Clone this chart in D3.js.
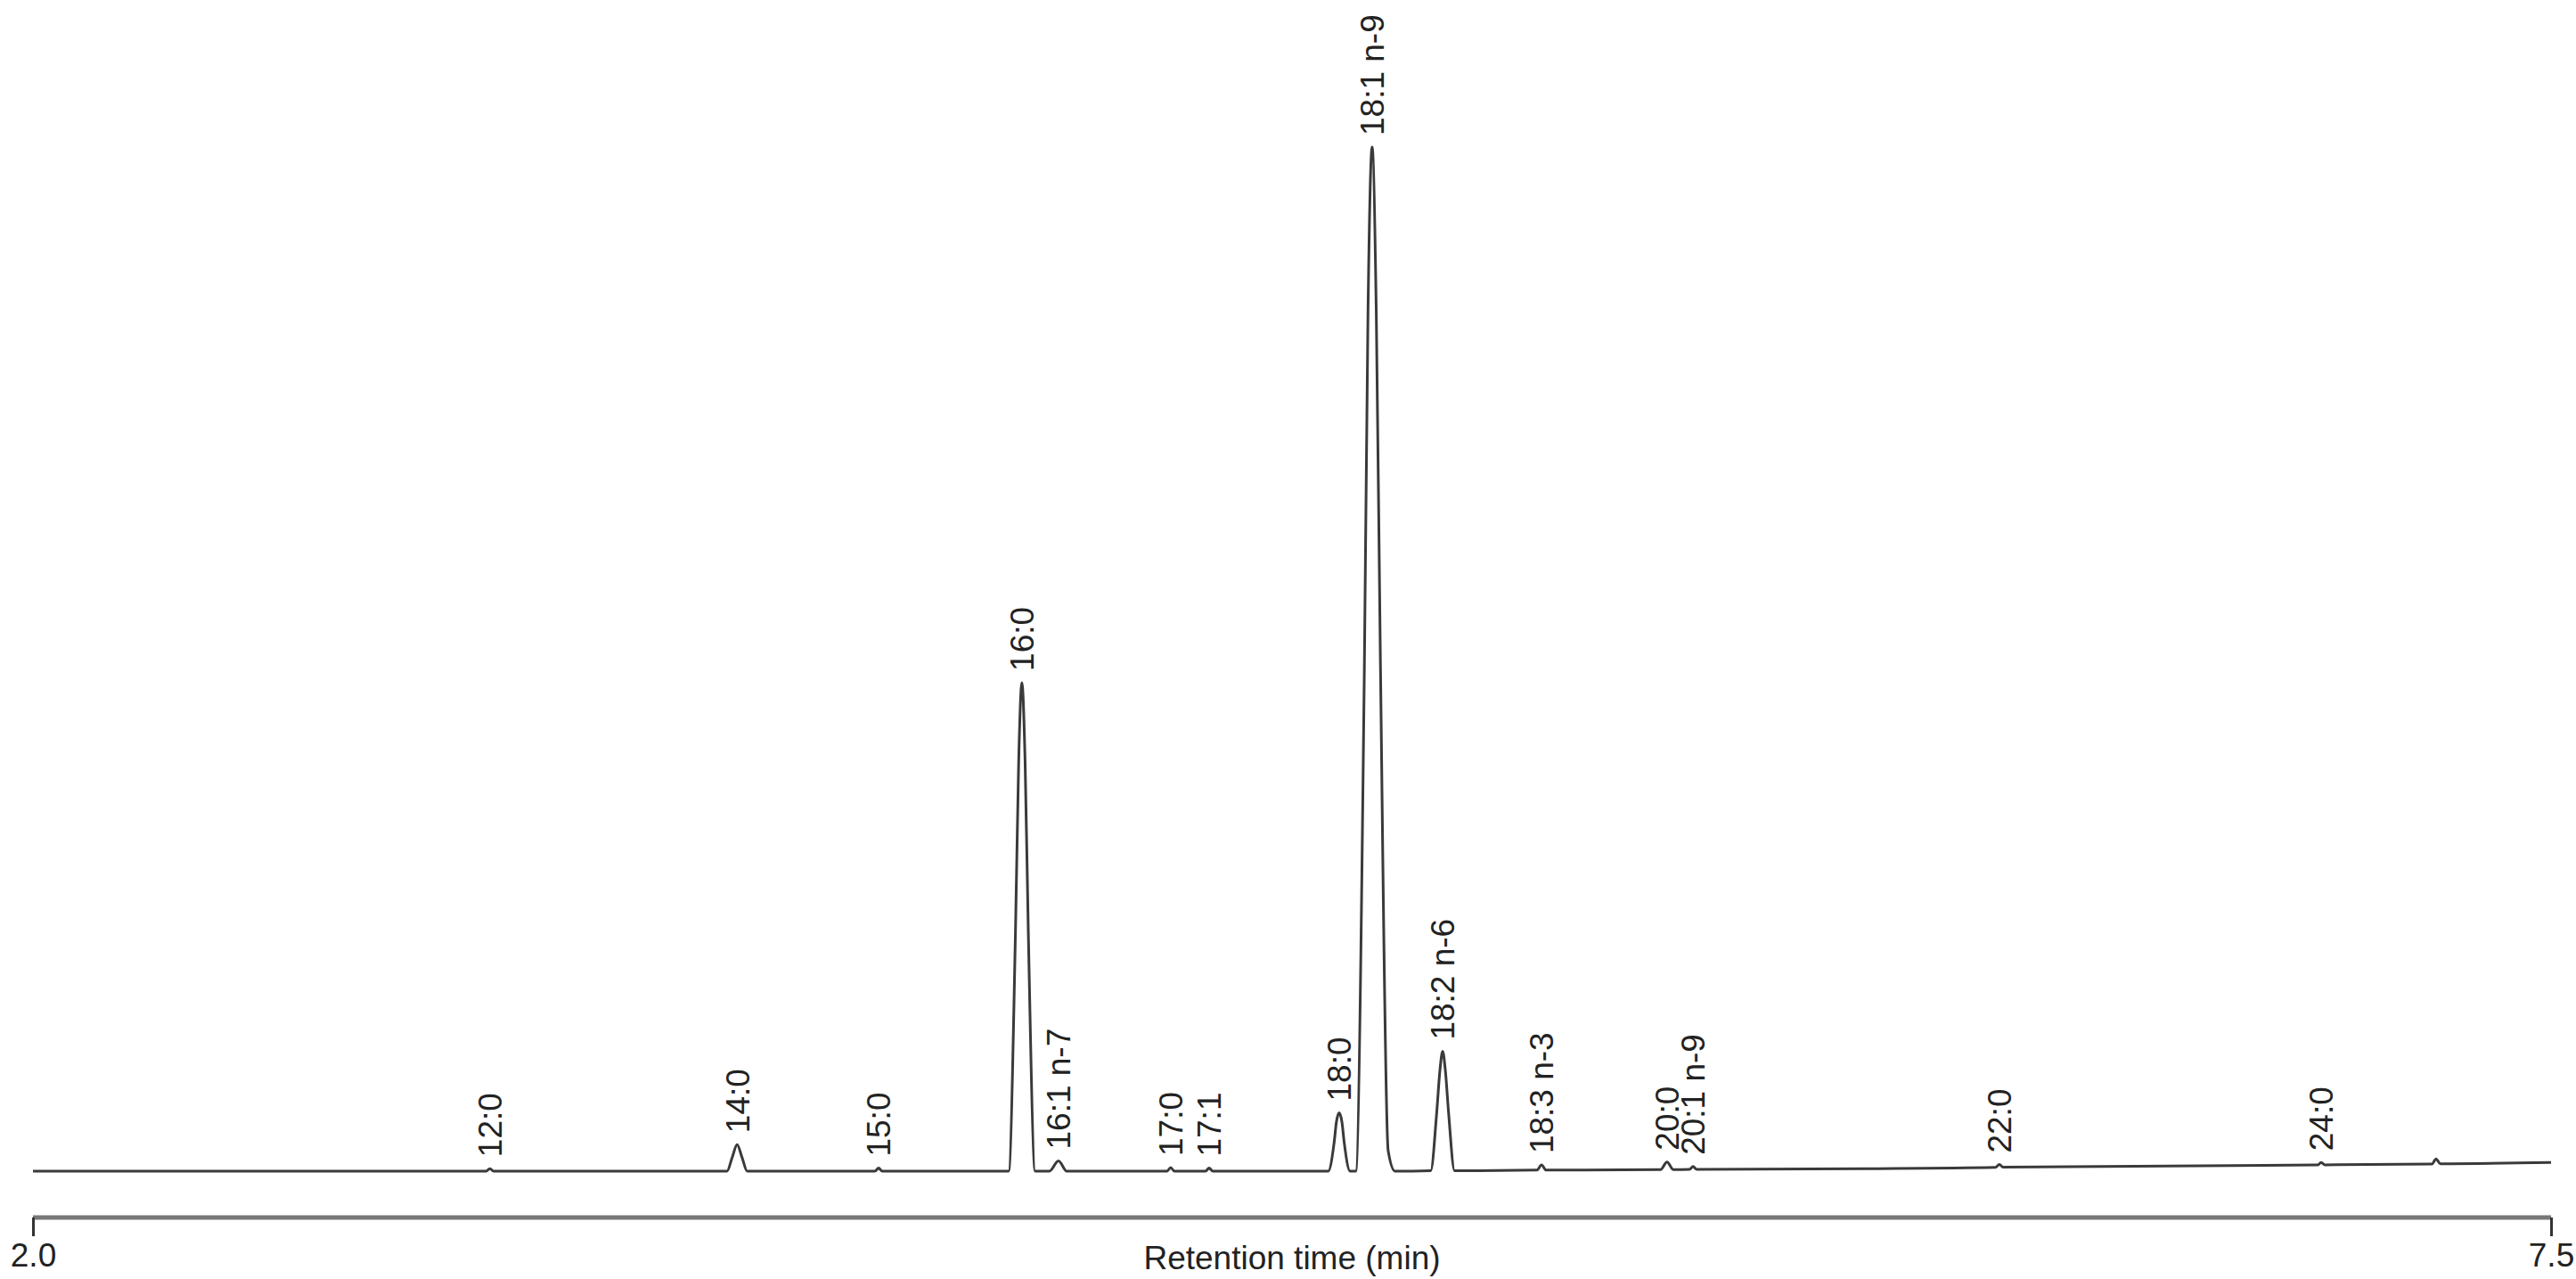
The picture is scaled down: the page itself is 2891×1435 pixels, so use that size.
<!DOCTYPE html>
<html>
<head>
<meta charset="utf-8">
<script src="https://cdn.jsdelivr.net/npm/d3@7"></script>
<style>
  html, body { margin: 0; padding: 0; background: #fff; }
  svg { display: block; }
  text { font-family: "Liberation Sans", Arial, sans-serif; fill: #222; }
</style>
</head>
<body>
<svg id="chart" width="2891" height="1435"></svg>
<script>
// ---- Data ----
// Trace: retention time (min) and relative signal (18:1 n-9 apex = 100)
const traceTimes = [
  2.000, 2.990, 2.998, 3.006,
  3.516, 3.527, 3.538, 3.549, 3.560,
  3.839, 3.847, 3.855,
  4.131, 4.146, 4.153, 4.160, 4.167, 4.174, 4.189,
  4.220, 4.240, 4.258,
  4.477, 4.485, 4.493,
  4.561, 4.569, 4.577,
  4.829, 4.842, 4.847, 4.853, 4.859, 4.864, 4.877,
  4.889, 4.908, 4.916, 4.925, 4.934, 4.943, 4.960, 4.975,
  5.053, 5.066, 5.073, 5.079, 5.085, 5.092, 5.105,
  5.285, 5.295, 5.305,
  5.555, 5.569, 5.583,
  5.618, 5.626, 5.634,
  6.000,
  6.287, 6.295, 6.303,
  6.990, 6.998, 7.006,
  7.240, 7.249, 7.258,
  7.500
];
const traceSignals = [
  0, 0, 0.25, 0,
  0, 1.3, 2.6, 1.3, 0,
  0, 0.3, 0,
  0, 23.4, 40, 47.7, 40, 23.4, 0,
  0, 1.0, 0,
  0, 0.35, 0,
  0, 0.3, 0,
  0, 2.8, 4.8, 5.7, 4.8, 2.8, 0,
  0, 49, 84, 100, 84, 50, 2, 0,
  0.05, 5.7, 9.8, 11.7, 9.8, 5.7, 0.05,
  0.1, 0.6, 0.1,
  0.15, 0.9, 0.15,
  0.17, 0.45, 0.17,
  0.25,
  0.38, 0.65, 0.4,
  0.6, 0.85, 0.62,
  0.7, 1.2, 0.72,
  0.85
];

// Peak annotations
const peakLabels  = ["12:0", "14:0", "15:0", "16:0", "16:1 n-7", "17:0", "17:1", "18:0", "18:1 n-9", "18:2 n-6", "18:3 n-3", "20:0", "20:1 n-9", "22:0", "24:0"];
const peakTimes   = [2.998, 3.538, 3.847, 4.160, 4.240, 4.485, 4.569, 4.853, 4.925, 5.079, 5.295, 5.569, 5.626, 6.295, 6.998];
const peakApex    = [0.25, 2.6, 0.3, 47.7, 1.0, 0.35, 0.3, 5.7, 100, 11.7, 0.6, 0.9, 0.45, 0.65, 0.85];

// Axis
const axisDomain = [2.0, 7.5];
const tickValues = [2.0, 7.5];
const axisTitle = "Retention time (min)";

// ---- Drawing ----
const svg = d3.select("#chart");
svg.append("rect").attr("width", 2891).attr("height", 1435).attr("fill", "#fff");

const x = d3.scaleLinear().domain(axisDomain).range([37, 2863]);
const y = d3.scaleLinear().domain([0, 100]).range([1314, 165]);

const points = traceTimes.map((t, i) => [t, traceSignals[i]]);
const line = d3.line()
  .x(d => x(d[0]))
  .y(d => y(d[1]))
  .curve(d3.curveMonotoneX);

svg.append("path")
  .datum(points)
  .attr("d", line)
  .attr("fill", "none")
  .attr("stroke", "#3a3a3a")
  .attr("stroke-width", 3)
  .attr("stroke-linejoin", "round");

// Peak labels (rotated)
svg.append("g").selectAll("text")
  .data(peakLabels)
  .join("text")
  .attr("transform", (d, i) => `translate(${x(peakTimes[i])},${y(peakApex[i]) - 13}) rotate(-90)`)
  .attr("dy", "0.36em")
  .attr("text-anchor", "start")
  .attr("font-size", 37)
  .attr("fill", "#2a2a2a")
  .text(d => d);

// X axis
const axisY = 1366;
const axis = d3.axisBottom(x)
  .tickValues(tickValues)
  .tickFormat(d3.format(".1f"))
  .tickSize(21)
  .tickPadding(8);

const gAxis = svg.append("g").attr("transform", `translate(0,${axisY})`).call(axis);
gAxis.select(".domain").attr("stroke", "#777").attr("stroke-width", 5).attr("d", `M${x(axisDomain[0])},0H${x(axisDomain[1])}`);
gAxis.selectAll(".tick line").attr("stroke", "#333").attr("stroke-width", 3);
gAxis.selectAll(".tick text")
  .attr("font-size", 37)
  .attr("font-family", "'Liberation Sans', Arial, sans-serif")
  .attr("fill", "#222");

svg.append("text")
  .attr("x", (x(axisDomain[0]) + x(axisDomain[1])) / 2)
  .attr("y", 1424)
  .attr("text-anchor", "middle")
  .attr("font-size", 37)
  .text(axisTitle);
</script>
</body>
</html>
